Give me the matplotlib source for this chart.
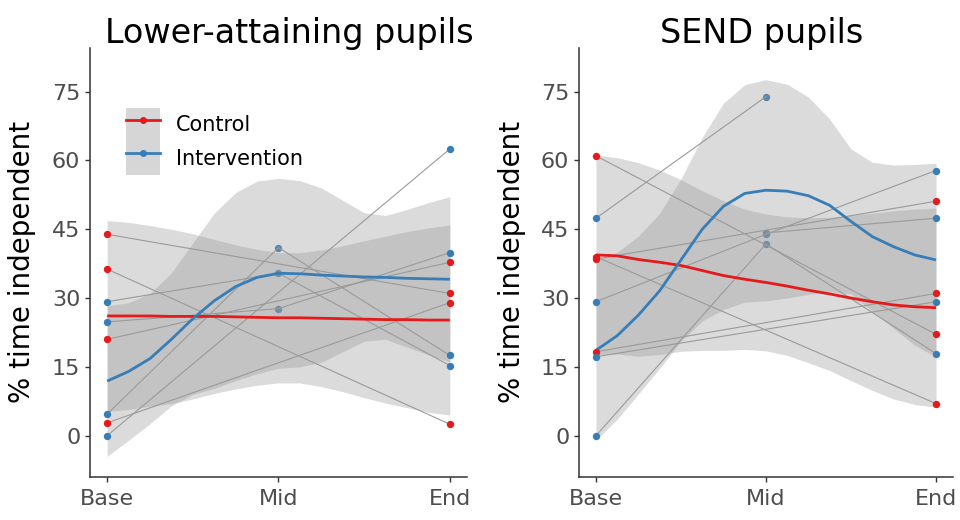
import numpy as np
import matplotlib
matplotlib.use('Agg')
import matplotlib.pyplot as plt
from matplotlib.patches import Patch
from matplotlib.lines import Line2D
from matplotlib.legend_handler import HandlerTuple

plt.rcParams['font.family'] = ['DejaVu Sans']

nan = np.nan
times = [1, 2, 3]
time_labels = ['Base', 'Mid', 'End']
yticks = [0, 15, 30, 45, 60, 75]

# pupil scores: one row per pupil, columns Base / Mid / End
lo_ctrl = [[43.9, nan, 31.0],
           [36.3, nan, 2.5],
           [21.0, nan, 37.8],
           [2.8, nan, 29.0]]
lo_int = [[29.2, 35.4, 15.3],
          [24.8, 27.7, 39.9],
          [4.7, 41.0, 17.5],
          [0.0, nan, 62.5]]

send_ctrl = [[61.0, nan, 22.1],
             [39.0, nan, 7.0],
             [38.5, nan, 51.1],
             [18.3, nan, 31.0]]
send_int = [[47.4, 73.9, nan],
            [29.2, 43.9, 57.8],
            [0.0, 41.8, 17.9],
            [17.2, nan, 29.2],
            [nan, 44.2, 47.4]]

# smoothed trend with confidence band
fit_x = [1.0, 1.125, 1.25, 1.375, 1.5, 1.625, 1.75, 1.875, 2.0,
         2.125, 2.25, 2.375, 2.5, 2.625, 2.75, 2.875, 3.0]

lo_ctrl_fit = [26.1, 26.1, 26.1, 26.0, 26.0, 26.0, 25.9, 25.8, 25.7,
               25.7, 25.6, 25.5, 25.4, 25.3, 25.3, 25.2, 25.2]
lo_ctrl_hi = [46.9, 46.5, 45.8, 45.0, 44.0, 42.8, 41.6, 40.6, 39.9,
              39.9, 40.5, 41.4, 42.5, 43.5, 44.5, 45.3, 45.9]
lo_ctrl_lo = [5.3, 5.7, 6.4, 7.0, 8.0, 9.2, 10.2, 11.0, 11.5,
              11.5, 10.7, 9.6, 8.3, 7.1, 6.1, 5.1, 4.5]
lo_int_fit = [11.9, 14.0, 16.8, 21.0, 25.5, 29.4, 32.5, 34.5, 35.4,
              35.3, 35.0, 34.8, 34.6, 34.5, 34.3, 34.2, 34.1]
lo_int_hi = [28.3, 29.0, 31.0, 35.5, 42.0, 48.5, 53.0, 55.5, 56.1,
             55.6, 54.0, 51.3, 48.6, 48.0, 49.3, 50.8, 52.1]
lo_int_lo = [-4.5, -1.0, 2.6, 6.5, 9.0, 10.3, 12.0, 13.5, 14.7,
             15.0, 16.0, 18.3, 20.6, 21.0, 19.3, 17.6, 16.1]

send_ctrl_fit = [39.4, 39.2, 38.4, 37.8, 37.1, 36.0, 34.9, 34.1, 33.4,
                 32.6, 31.7, 30.9, 30.0, 29.2, 28.5, 28.1, 27.9]
send_ctrl_hi = [61.2, 60.6, 59.5, 57.9, 55.8, 53.4, 51.2, 49.4, 48.3,
                47.7, 47.5, 47.6, 48.0, 48.5, 49.0, 49.4, 49.6]
send_ctrl_lo = [17.6, 17.8, 17.3, 17.7, 18.4, 18.6, 18.6, 18.8, 18.5,
                17.5, 15.9, 14.2, 12.0, 9.9, 8.0, 6.8, 6.2]
send_int_fit = [18.6, 21.8, 26.3, 31.6, 38.3, 45.0, 50.0, 52.8, 53.5,
                53.3, 52.3, 50.2, 46.7, 43.4, 41.2, 39.4, 38.3]
send_int_hi = [38.2, 40.0, 43.5, 48.5, 56.0, 65.0, 72.5, 76.5, 77.6,
               76.6, 73.8, 69.0, 62.5, 59.6, 59.0, 59.1, 59.4]
send_int_lo = [-1.0, 3.6, 9.1, 14.7, 20.6, 25.0, 27.5, 29.1, 29.4,
               30.0, 30.8, 31.4, 30.9, 27.2, 23.4, 19.7, 17.2]

RED = '#E41A1C'
BLUE = '#377EB8'
BAND = '#999999'
BAND_ALPHA = 0.35


def draw_panel(ax, title, title_x, ctrl, inter, ctrl_band, int_band):
    for pupils, col in [(ctrl, RED), (inter, BLUE)]:
        arr = np.array(pupils, dtype=float)
        for row in arr:
            ok = ~np.isnan(row)
            ax.plot(np.array(times)[ok], row[ok], color='#9a9a9a', lw=0.8, zorder=3)
        # mid points sit underneath the bands, base/end on top
        ax.scatter(np.full(len(arr), 2), arr[:, 1], s=28, color=col, zorder=1, lw=0)
        for j in (0, 2):
            ax.scatter(np.full(len(arr), times[j]), arr[:, j], s=28, color=col, zorder=6, lw=0)

    for (fit, hi, lo), col in [(ctrl_band, RED), (int_band, BLUE)]:
        ax.fill_between(fit_x, lo, hi, color=BAND, alpha=BAND_ALPHA, lw=0, zorder=2)
        ax.plot(fit_x, fit, color=col, lw=2.0, zorder=5, solid_capstyle='butt')

    ax.set_xlim(0.9, 3.1)
    ax.set_ylim(-9, 84.5)
    ax.set_xticks(times)
    ax.set_xticklabels(time_labels)
    ax.set_yticks(yticks)
    for s in ['top', 'right']:
        ax.spines[s].set_visible(False)
    for s in ['left', 'bottom']:
        ax.spines[s].set_color('#333333')
        ax.spines[s].set_linewidth(1.1)
    ax.tick_params(colors='#333333', labelcolor='#4D4D4D', labelsize=16, length=3.5, width=1)
    ax.tick_params(axis='x', pad=5)
    ax.text(title_x, 1.012, title, transform=ax.transAxes, ha='center', va='baseline',
            fontsize=24, color='black')
    ax.text(-0.18, 0.502, '% time independent', transform=ax.transAxes, rotation=90,
            ha='center', va='center', fontsize=20, color='black')


fig = plt.figure(figsize=(9.6, 5.2), dpi=100)
ax1 = fig.add_axes([0.09375, 0.0827, 0.3927, 0.825])
ax2 = fig.add_axes([0.6031, 0.0827, 0.3896, 0.825])

draw_panel(ax1, 'Lower-attaining pupils', 0.528, lo_ctrl, lo_int,
           (lo_ctrl_fit, lo_ctrl_hi, lo_ctrl_lo), (lo_int_fit, lo_int_hi, lo_int_lo))
draw_panel(ax2, 'SEND pupils', 0.489, send_ctrl, send_int,
           (send_ctrl_fit, send_ctrl_hi, send_ctrl_lo), (send_int_fit, send_int_hi, send_int_lo))

key_bg = Patch(facecolor=BAND, alpha=BAND_ALPHA + 0.05, lw=0)
key_c = Line2D([], [], color=RED, lw=2, marker='o', ms=4)
key_i = Line2D([], [], color=BLUE, lw=2, marker='o', ms=4)
ax1.legend(handles=[(key_bg, key_c), (key_bg, key_i)], labels=['Control', 'Intervention'],
           handler_map={tuple: HandlerTuple(ndivide=1, pad=0)}, loc='upper left',
           bbox_to_anchor=(0.095, 0.86), frameon=False, fontsize=15, handlelength=1.65,
           handleheight=2.1, labelspacing=0, borderpad=0, borderaxespad=0, handletextpad=0.75)

fig.savefig('out.png', dpi=100)
